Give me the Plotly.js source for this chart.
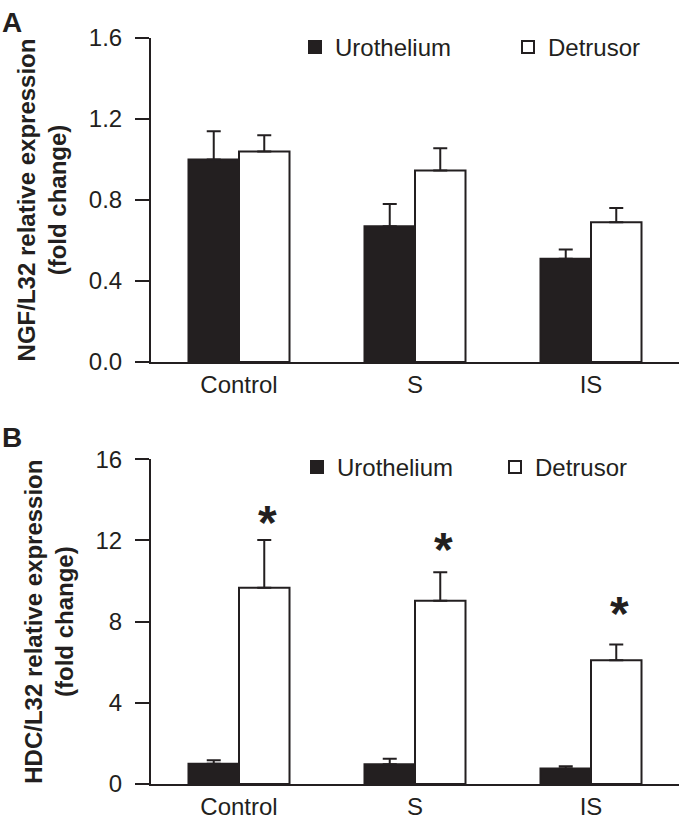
<!DOCTYPE html>
<html>
<head>
<meta charset="utf-8">
<script src="https://cdn.plot.ly/plotly-3.0.1.min.js"></script>
<style>html,body{margin:0;padding:0;background:#fff;}#chart{width:680px;height:821px;}</style>
</head>
<body>
<div id="chart"></div>
<script>
// ---- data ----
const categories = ["Control", "S", "IS"];
const seriesNames = ["Urothelium", "Detrusor"];
// Panel A: NGF/L32
const ngfUro = [1.00, 0.67, 0.51];
const ngfUroErr = [0.14, 0.11, 0.045];
const ngfDet = [1.04, 0.946, 0.69];
const ngfDetErr = [0.08, 0.11, 0.07];
// Panel B: HDC/L32
const hdcUro = [1.0, 0.97, 0.76];
const hdcUroErr = [0.17, 0.28, 0.11];
const hdcDet = [9.67, 9.03, 6.10];
const hdcDetErr = [2.35, 1.40, 0.78];
const hdcSig = [true, true, true];
const hdcStarY = [13.06, 11.73, 8.62];
const ngfTicks = [0, 0.4, 0.8, 1.2, 1.6];
const hdcTicks = [0, 4, 8, 12, 16];

// ---- style ----
const INK = "#231f20";
const FONT = "Liberation Sans, Arial, Helvetica, sans-serif";
const W = 680, H = 821;
const M = {l: 151, r: 1, t: 38, b: 37};
const pw = W - M.l - M.r, ph = H - M.t - M.b;
const px2x = p => (p - M.l) / pw;
const px2y = p => (H - M.b - p) / ph;
const BARGAP = 0.426;

function barTrace(y, err, name, fill, xa, ya, legend) {
  return {
    type: "bar", x: categories, y: y, name: name,
    xaxis: xa, yaxis: ya, legend: legend,
    marker: {color: fill, line: {color: INK, width: 2}},
    error_y: {type: "data", symmetric: false, array: err, arrayminus: err.map(() => 0),
              color: INK, thickness: 2, width: 7},
    hoverinfo: "skip"
  };
}

const data = [
  barTrace(ngfUro, ngfUroErr, seriesNames[0], INK, "x", "y", "legend"),
  barTrace(ngfDet, ngfDetErr, seriesNames[1], "#ffffff", "x", "y", "legend3"),
  barTrace(hdcUro, hdcUroErr, seriesNames[0], INK, "x2", "y2", "legend2"),
  barTrace(hdcDet, hdcDetErr, seriesNames[1], "#ffffff", "x2", "y2", "legend4")
];

const xBase = {
  type: "category", range: [-0.5, 2.5], showline: true, linewidth: 2, linecolor: INK,
  ticks: "", showgrid: false, zeroline: false, fixedrange: true,
  tickfont: {family: FONT, size: 24, color: INK}
};
const yBase = {
  showline: true, linewidth: 2, linecolor: INK, ticks: "outside", ticklen: 14, tickwidth: 2,
  tickcolor: INK, showgrid: false, zeroline: false, fixedrange: true,
  tickfont: {family: FONT, size: 24, color: INK}, ticklabelstandoff: 8
};

const annotations = [
  {text: "<b>A</b>", xref: "paper", yref: "paper", x: px2x(0), y: px2y(5), xanchor: "left", yanchor: "top",
   showarrow: false, font: {family: FONT, size: 28, color: INK}},
  {text: "<b>B</b>", xref: "paper", yref: "paper", x: px2x(0), y: px2y(420), xanchor: "left", yanchor: "top",
   showarrow: false, font: {family: FONT, size: 28, color: INK}}
];
const detOffset = (1 - BARGAP) / 4;
hdcSig.forEach((s, i) => {
  if (!s) return;
  annotations.push({text: "<b>*</b>", xref: "x2", yref: "y2", x: i + detOffset, y: hdcStarY[i],
    xanchor: "center", yanchor: "middle", xshift: 3, yshift: -4, showarrow: false,
    font: {family: FONT, size: 48, color: INK}});
});

const legendBase = {
  orientation: "h", xanchor: "left", yanchor: "top",
  font: {family: FONT, size: 24, color: INK}, bgcolor: "rgba(0,0,0,0)", borderwidth: 0,
  itemclick: false, itemdoubleclick: false
};

const layout = {
  width: W, height: H, margin: M, paper_bgcolor: "#fff", plot_bgcolor: "rgba(0,0,0,0)",
  barmode: "group", bargap: BARGAP, bargroupgap: 0,
  font: {family: FONT, color: INK},
  xaxis: Object.assign({}, xBase, {anchor: "y"}),
  yaxis: Object.assign({}, yBase, {anchor: "x", domain: [px2y(362), 1], range: [0, 1.6],
    tickvals: ngfTicks, tickformat: ".1f",
    title: {text: "<b>NGF/L32 relative expression<br>(fold change)</b>", font: {family: FONT, size: 24, color: INK}, standoff: 15}}),
  xaxis2: Object.assign({}, xBase, {anchor: "y2"}),
  yaxis2: Object.assign({}, yBase, {anchor: "x2", domain: [0, px2y(459.3)], range: [0, 16],
    tickvals: hdcTicks,
    title: {text: "<b>HDC/L32 relative expression<br>(fold change)</b>", font: {family: FONT, size: 24, color: INK}, standoff: 15}}),
  legend: Object.assign({}, legendBase, {x: px2x(295), y: px2y(25)}),
  legend3: Object.assign({}, legendBase, {x: px2x(508), y: px2y(25)}),
  legend2: Object.assign({}, legendBase, {x: px2x(297), y: px2y(445)}),
  legend4: Object.assign({}, legendBase, {x: px2x(495), y: px2y(445)}),
  showlegend: true,
  annotations: annotations
};

Plotly.newPlot("chart", data, layout, {staticPlot: true, displayModeBar: false});
</script>
</body>
</html>
